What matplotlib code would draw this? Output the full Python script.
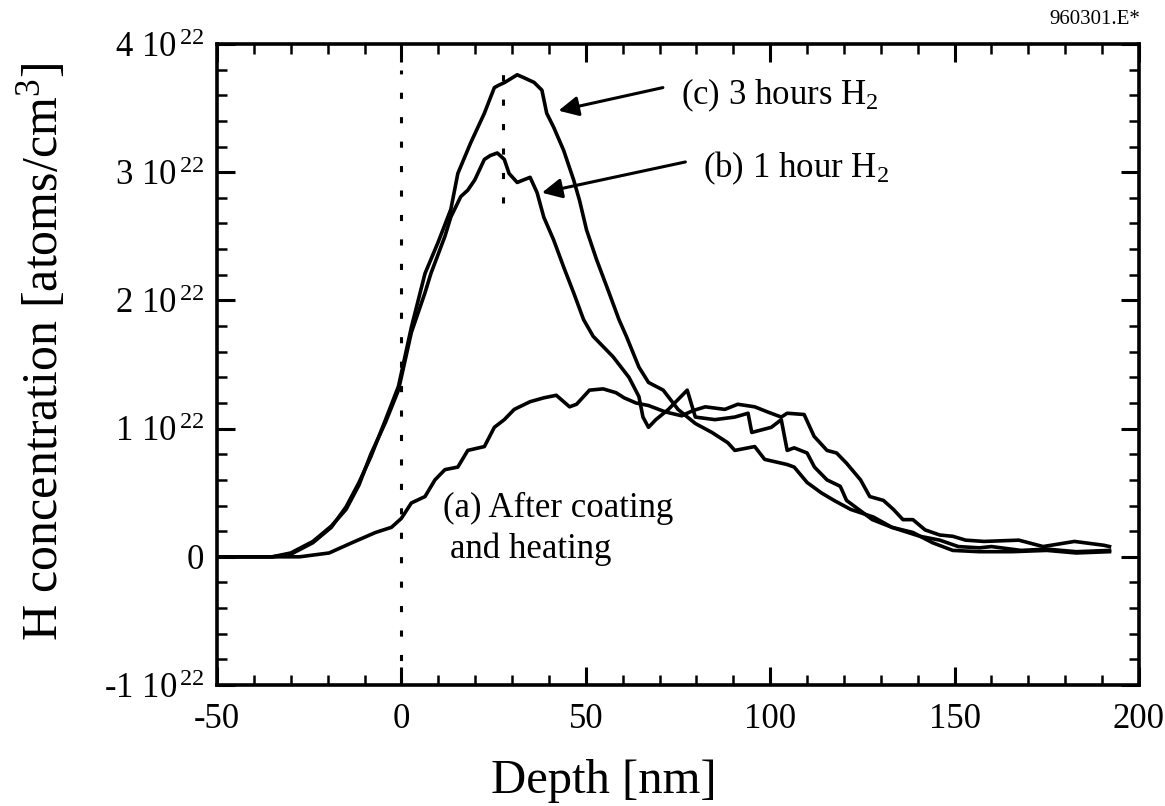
import matplotlib
matplotlib.use("Agg")
import matplotlib.pyplot as plt
from matplotlib.ticker import MultipleLocator

plt.rcParams['font.family'] = ['Liberation Serif', 'DejaVu Serif']
plt.rcParams['mathtext.fontset'] = 'custom'
plt.rcParams['mathtext.rm'] = 'Liberation Serif'
plt.rcParams['mathtext.it'] = 'Liberation Serif:italic'

# depth [nm] and H concentration [1e22 atoms/cm3]
# (a) after coating and heating
depth_a = [-50, -35, -27.6, -19.6, -13.4, -7, -2.7, 0, 2.7, 6.4,
           9.1, 11.8, 15.3, 18, 22.5, 25.2, 27.9, 30.6, 34.9, 38.6,
           42, 45.6, 47.5, 51, 54.7, 58.2, 60.4, 63.6, 67, 71.6,
           76, 79, 82.4, 87.7, 91.2, 95.8, 99.3, 103, 104.6, 109.2,
           111.9, 115.4, 118, 120.7, 124.5, 127, 130.7, 133.4, 136, 138.7,
           142, 146, 149.5, 153, 158, 167.4, 174, 182.5, 190.5, 192]
conc_a = [0, 0, 0.0, 0.03, 0.11, 0.19, 0.23, 0.30, 0.42, 0.47,
          0.60, 0.68, 0.70, 0.83, 0.86, 1.01, 1.07, 1.15, 1.21, 1.24,
          1.26, 1.17, 1.19, 1.30, 1.31, 1.28, 1.24, 1.20, 1.18, 1.13,
          1.10, 1.14, 1.17, 1.15, 1.19, 1.17, 1.13, 1.09, 1.12, 1.11,
          0.94, 0.83, 0.81, 0.73, 0.60, 0.47, 0.44, 0.37, 0.29, 0.29,
          0.21, 0.17, 0.16, 0.13, 0.12, 0.13, 0.08, 0.12, 0.09, 0.08]

# (b) 1 hour H2
depth_b = [-50, -35, -30, -24, -19, -15, -11.5, -8.3, -4.3, -0.8,
           2.7, 6.4, 8, 11.8, 13.4, 16.1, 18, 19.9, 22.5, 24.1,
           26, 27.9, 29.2, 31.4, 34, 34.9, 36.8, 38.6, 41.3, 44,
           46.7, 49.4, 52, 57.4, 61.7, 64.4, 65.5, 67, 69, 72.4,
           77.5, 79.7, 85, 90.4, 94, 95, 100.3, 103, 104.6, 106.5,
           110, 112, 115.4, 119, 120.7, 127.7, 133, 138.7, 144, 149.5,
           156.7, 165.6, 175, 183, 192]
conc_b = [0, 0, 0.03, 0.12, 0.24, 0.37, 0.56, 0.80, 1.05, 1.30,
          1.75, 2.06, 2.21, 2.50, 2.65, 2.81, 2.86, 2.94, 3.10, 3.13,
          3.15, 3.10, 2.99, 2.92, 2.95, 2.96, 2.84, 2.65, 2.47, 2.26,
          2.06, 1.85, 1.72, 1.56, 1.40, 1.25, 1.09, 1.01, 1.07, 1.15,
          1.30, 1.09, 1.07, 1.09, 1.12, 0.97, 1.01, 1.07, 0.83, 0.85,
          0.81, 0.70, 0.60, 0.55, 0.44, 0.29, 0.23, 0.19, 0.11, 0.05,
          0.04, 0.04, 0.05, 0.03, 0.04]

# (c) 3 hours H2
depth_c = [-50, -35, -30, -24, -19, -15, -11.5, -8.3, -4.3, -0.8,
           2.7, 6.4, 9.9, 13.4, 15.3, 18.8, 22.5, 25.2, 26.5, 28,
           31.4, 33, 36, 38.1, 39.4, 41.3, 44, 46.7, 48.3, 50.2,
           52.9, 56.3, 59, 61, 64.4, 67, 71, 75, 79.7, 84.2,
           88.5, 90.4, 95.8, 98.5, 104.6, 106.5, 110, 113.8, 117.3, 121.8,
           128, 133, 140.6, 146, 151, 156.7, 160, 168, 175, 183,
           192]
conc_c = [0, 0, 0.02, 0.11, 0.23, 0.39, 0.58, 0.78, 1.07, 1.33,
          1.79, 2.21, 2.45, 2.71, 2.99, 3.23, 3.46, 3.66, 3.68, 3.70,
          3.76, 3.74, 3.70, 3.64, 3.46, 3.35, 3.17, 2.94, 2.78, 2.55,
          2.32, 2.06, 1.85, 1.72, 1.48, 1.36, 1.30, 1.15, 1.04, 0.97,
          0.89, 0.83, 0.86, 0.76, 0.72, 0.70, 0.58, 0.50, 0.44, 0.37,
          0.31, 0.23, 0.16, 0.13, 0.08, 0.07, 0.08, 0.05, 0.06, 0.04,
          0.05]

# dotted marker lines (surface and peak position)
ref_depth = [0, 27.5]
ref_low = [-1.0, 2.76]
ref_high = [3.80, 3.88]

x_ticks = [-50, 0, 50, 100, 150, 200]
y_ticks = [-1, 0, 1, 2, 3, 4]
y_labels = ['-1 10$^{\\,22}$', '0', '1 10$^{\\,22}$', '2 10$^{\\,22}$',
            '3 10$^{\\,22}$', '4 10$^{\\,22}$']

fig = plt.figure(figsize=(11.65, 8.06), dpi=100)
ax = fig.add_axes([217 / 1165, 0.1501, (1139 - 217) / 1165, 0.7953])

for d, c in [(depth_a, conc_a), (depth_b, conc_b), (depth_c, conc_c)]:
    ax.plot(d, c, color='black', lw=2.6, solid_joinstyle='round')

for x0, y0, y1 in zip(ref_depth, ref_low, ref_high):
    ax.vlines(x0, y0, y1, colors='black', lw=2.2, linestyles=(0, (2, 6)))

ax.set_xlim(-50, 200)
ax.set_ylim(-1, 4)
ax.set_xticks(x_ticks)
ax.set_xticklabels([str(v) for v in x_ticks])
ax.set_yticks(y_ticks)
ax.set_yticklabels(y_labels)
ax.xaxis.set_minor_locator(MultipleLocator(10))
ax.yaxis.set_minor_locator(MultipleLocator(0.2))
ax.tick_params(which='both', direction='in', top=True, right=True)
ax.tick_params(which='major', length=13, width=2.2, labelsize=25)
ax.tick_params(axis='x', which='major', pad=13)
ax.tick_params(axis='y', which='major', pad=9)
ax.tick_params(which='minor', length=7, width=1.8)
for s in ax.spines.values():
    s.set_linewidth(2.6)

arrow = dict(arrowstyle='-|>', color='black', lw=2.2, mutation_scale=30,
             shrinkA=0, shrinkB=0)
ax.annotate('', xy=(42.6, 3.48), xytext=(70.9, 3.66), arrowprops=arrow)
ax.annotate('', xy=(38.1, 2.84), xytext=(77, 3.08), arrowprops=arrow)
ax.text(75.7, 3.53, '(c) 3 hours H$_2$', fontsize=25, va='baseline')
ax.text(81.8, 2.96, '(b) 1 hour H$_2$', fontsize=25, va='baseline')
ax.text(11.3, 0.31, '(a) After coating', fontsize=25, va='baseline')
ax.text(13.2, -0.01, 'and heating', fontsize=25, va='baseline')

fig.text(604 / 1165, 1 - 781 / 806, 'Depth [nm]', fontsize=35,
         ha='center', va='center')
fig.text(42 / 1165, 1 - 352 / 806, 'H concentration [atoms/cm$^3$]',
         fontsize=36, rotation=90, ha='center', va='center')
fig.text(1140 / 1165, 1 - 19 / 806, '960301.E*', fontsize=15,
         ha='right', va='center')

fig.savefig('out.png', dpi=100)
